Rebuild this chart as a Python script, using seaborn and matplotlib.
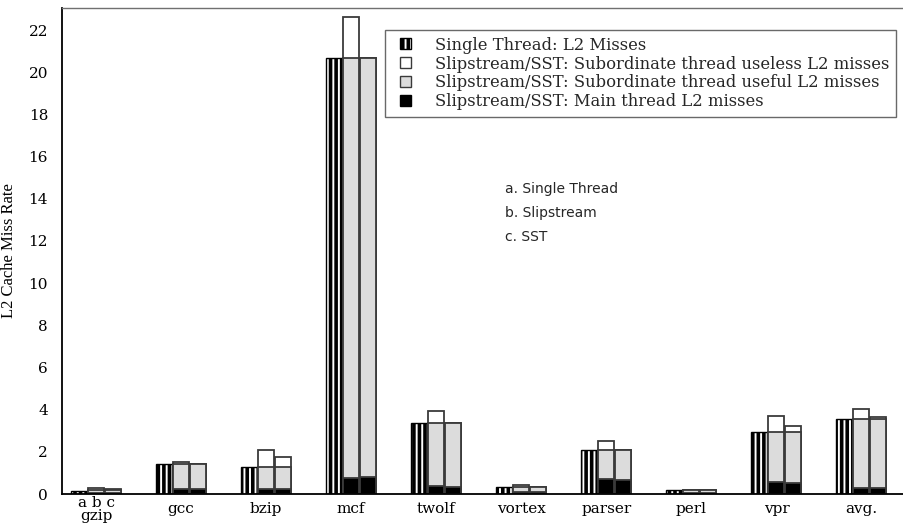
import numpy as np
import pandas as pd
import matplotlib
matplotlib.use("Agg")
import matplotlib.pyplot as plt
import seaborn as sns
from matplotlib.patches import Patch, Rectangle
from matplotlib.legend_handler import HandlerPatch

# ---------------- data ----------------
benchmarks = ["gzip", "gcc", "bzip", "mcf", "twolf", "vortex", "parser", "perl", "vpr", "avg."]
tick_labels = ["a b c\ngzip", "gcc", "bzip", "mcf", "twolf", "vortex", "parser", "perl", "vpr", "avg."]
configs = ["a", "b", "c"]

single_thread = [0.12, 1.40, 1.30, 20.70, 3.37, 0.32, 2.07, 0.19, 2.93, 3.54]

slip_main = [0.04, 0.22, 0.22, 0.78, 0.40, 0.08, 0.70, 0.03, 0.57, 0.30]
slip_useful = [0.14, 1.18, 1.08, 19.92, 2.97, 0.27, 1.37, 0.15, 2.36, 3.24]
slip_useless = [0.10, 0.12, 0.80, 1.90, 0.58, 0.08, 0.43, 0.00, 0.78, 0.49]

sst_main = [0.04, 0.22, 0.22, 0.80, 0.35, 0.08, 0.67, 0.03, 0.52, 0.30]
sst_useful = [0.14, 1.18, 1.08, 19.90, 3.02, 0.27, 1.42, 0.15, 2.41, 3.26]
sst_useless = [0.06, 0.00, 0.44, 0.00, 0.00, 0.00, 0.00, 0.00, 0.28, 0.08]

legend_labels = ["Single Thread: L2 Misses",
                 "Slipstream/SST: Subordinate thread useless L2 misses",
                 "Slipstream/SST: Subordinate thread useful L2 misses",
                 "Slipstream/SST: Main thread L2 misses"]
note_lines = ["a. Single Thread", "b. Slipstream", "c. SST"]

# ---------------- build table ----------------
rows = []
for i, b in enumerate(benchmarks):
    rows.append(dict(bench=b, config="a", total=single_thread[i], mid=0.0, main=0.0))
    rows.append(dict(bench=b, config="b",
                     total=slip_main[i] + slip_useful[i] + slip_useless[i],
                     mid=slip_main[i] + slip_useful[i], main=slip_main[i]))
    rows.append(dict(bench=b, config="c",
                     total=sst_main[i] + sst_useful[i] + sst_useless[i],
                     mid=sst_main[i] + sst_useful[i], main=sst_main[i]))
df = pd.DataFrame(rows)

# ---------------- style ----------------
sns.set_theme(style="white")
plt.rcParams["font.family"] = ["DejaVu Serif"]
plt.rcParams["hatch.linewidth"] = 2.6

fig = plt.figure(figsize=(9.04, 5.25), dpi=100)
ax = fig.add_axes([62 / 904, 1 - 494 / 525, 842 / 904, 486 / 525])

GRAY = "#dcdcdc"
EDGE = "#3a3a3a"

layers = [("total", None), ("mid", GRAY), ("main", "black")]
for col, fill in layers:
    n0 = len(ax.containers)
    sns.barplot(data=df, x="bench", y=col, hue="config", order=benchmarks,
                hue_order=configs, dodge=True, width=0.6, gap=0.06,
                estimator="mean", errorbar=None, legend=False, ax=ax)
    for k, cont in enumerate(ax.containers[n0:]):
        cfg = configs[k]
        for p in cont.patches:
            if col == "total":
                if cfg == "a":
                    p.set_facecolor("white")
                    p.set_edgecolor("black")
                    p.set_hatch("|||")
                    p.set_linewidth(1.0)
                else:
                    p.set_facecolor("white")
                    p.set_edgecolor(EDGE)
                    p.set_linewidth(1.3)
            else:
                if cfg == "a":
                    p.set_visible(False)
                else:
                    p.set_facecolor(fill)
                    p.set_edgecolor(EDGE)
                    p.set_linewidth(1.3)

ax.set_xlim(-0.4, 9.5)
ax.set_ylim(0, 23.05)
ax.set_yticks(np.arange(0, 23, 2))
ax.set_xticks(range(len(benchmarks)))
ax.set_xticklabels(tick_labels)
ax.tick_params(axis="both", length=0, colors="black")
ax.tick_params(axis="y", pad=10, labelsize=11)
ax.tick_params(axis="x", pad=11, labelsize=11)
for t in ax.get_xticklabels():
    t.set_va("center")
    t.set_linespacing(0.9)
ax.set_xlabel("")
ax.set_ylabel("L2 Cache Miss Rate", family="Liberation Serif", fontsize=12, color="black")
ax.yaxis.set_label_coords(-45 / 842, 0.5)

for side in ["left", "bottom"]:
    ax.spines[side].set_color("black")
    ax.spines[side].set_linewidth(1.3)
ax.spines["top"].set_color("#707070")
ax.spines["top"].set_linewidth(1.0)
ax.spines["right"].set_visible(False)


def square_patch(legend, orig_handle, xdescent, ydescent, width, height, fontsize):
    s = 11 * 72 / 100.0  # square size in points
    return Rectangle((-xdescent + width - s, -ydescent + (height - s) / 2), s, s)


handles = [Patch(facecolor="white", edgecolor="black", hatch="|||", linewidth=1.0),
           Patch(facecolor="white", edgecolor=EDGE, linewidth=1.0),
           Patch(facecolor=GRAY, edgecolor=EDGE, linewidth=1.0),
           Patch(facecolor="black", edgecolor="black", linewidth=1.0)]
leg = ax.legend(handles, legend_labels, loc="upper left",
                bbox_to_anchor=((385 - 62) / 842, (494 - 30) / 486),
                borderaxespad=0, fontsize=11.8, frameon=True, fancybox=False,
                handlelength=1.2, handleheight=0.7, handletextpad=1.45,
                labelspacing=0.12, borderpad=0.4,
                handler_map={Patch: HandlerPatch(patch_func=square_patch)})
leg.get_frame().set_edgecolor("#444444")
leg.get_frame().set_linewidth(1.0)

ny = [14.46, 13.32, 12.19]
for txt, yy in zip(note_lines, ny):
    ax.text(4.81, yy, txt, family="DejaVu Sans", fontsize=10, va="center", ha="left")

fig.savefig("out.png", dpi=100)
